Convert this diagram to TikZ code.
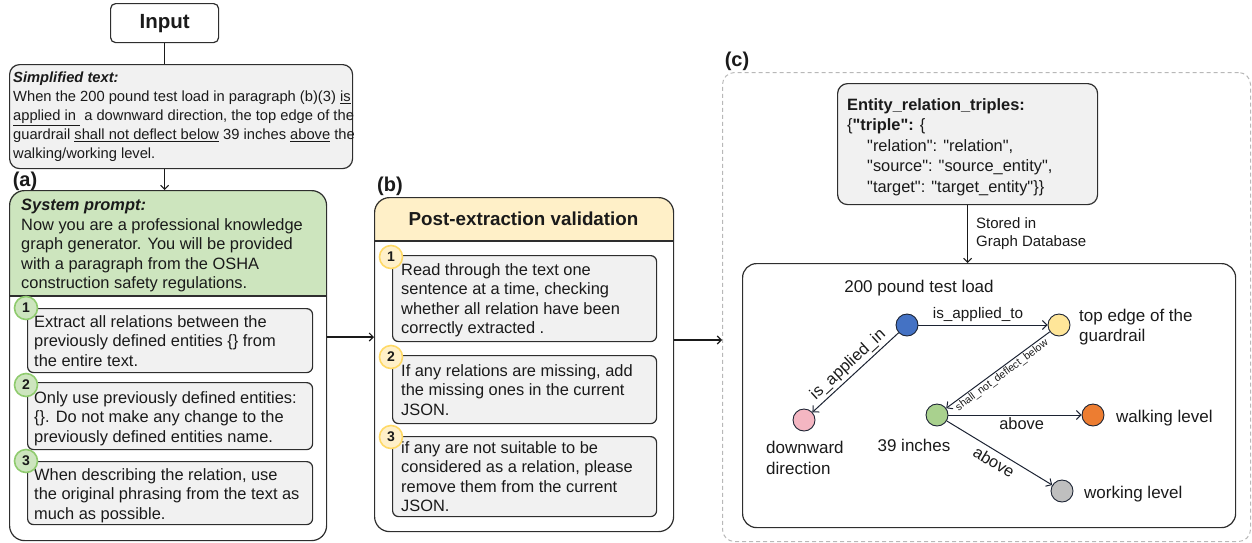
\documentclass[tikz,border=0pt]{standalone}
\usepackage{fontspec}
\setmainfont{Liberation Sans}[Ligatures=TeXOff]
\usetikzlibrary{arrows.meta,calc}
\definecolor{txtc}{HTML}{1A1A1A}
\definecolor{boxline}{HTML}{2E2E2E}
\definecolor{boxfill}{HTML}{F1F1F1}
\definecolor{greenfill}{HTML}{CDE5BE}
\definecolor{greenring}{HTML}{8FCB6E}
\definecolor{yelfill}{HTML}{FFF0C8}
\definecolor{yelring}{HTML}{FFD966}
\definecolor{dashc}{HTML}{B8B8B8}
\definecolor{edgec}{HTML}{1C2333}
\definecolor{nblue}{HTML}{4472C4}
\definecolor{nyellow}{HTML}{FFE699}
\definecolor{npink}{HTML}{F4B6C2}
\definecolor{ngreen}{HTML}{A9D18E}
\definecolor{norange}{HTML}{ED7D31}
\definecolor{ngray}{HTML}{BFBFBF}
\tikzset{
  shell/.style={draw=boxline, line width=1.2pt, rectangle, inner sep=0pt, anchor=north west},
  stepbox/.style={shell, fill=boxfill, rounded corners=6pt},
  bigbox/.style={shell, rounded corners=15pt},
  txt/.style={inner sep=0pt, anchor=north west, align=left, text=txtc, font=\fontsize{16.4}{19.5}\selectfont},
  simptxt/.style={txt, font=\fontsize{14.7}{18.9}\selectfont},
  numg/.style={circle, draw=greenring, fill=greenfill, line width=1.6pt, minimum size=23pt, inner sep=0pt, font=\fontsize{14}{14}\selectfont\bfseries, text=txtc},
  numy/.style={circle, draw=yelring, fill=yelfill, line width=1.6pt, minimum size=23pt, inner sep=0pt, font=\fontsize{14}{14}\selectfont\bfseries, text=txtc},
  panel/.style={font=\fontsize{20}{20}\selectfont\bfseries, text=txtc, inner sep=0pt},
  arr/.style={draw=txtc, line width=1.1pt, -{Straight Barb[length=4pt,width=8pt]}},
  gnode/.style={circle, draw=edgec, line width=0.9pt, minimum size=22pt, inner sep=0pt},
  garr/.style={draw=edgec, line width=1pt, -{Straight Barb[length=4.5pt,width=9pt]}},
  glab/.style={text=txtc, font=\fontsize{17}{20.5}\selectfont, inner sep=0pt, align=left},
  elab/.style={text=txtc, font=\fontsize{15.3}{15.3}\selectfont, inner sep=2.5pt},
}
\begin{document}
\begin{tikzpicture}[x=1pt,y=-1pt]
\useasboundingbox (0,0) rectangle (1252,542);

% ---------- Input and simplified text ----------
\node[shell, rounded corners=5pt, minimum width=108pt, minimum height=39pt] (inp) at (110,3) {};
\node[font=\fontsize{20.5}{20.5}\selectfont\bfseries, text=txtc] at (inp.center) {Input};

\node[shell, fill=boxfill, rounded corners=10pt, minimum width=343pt, minimum height=104pt] (simp) at (9,64) {};
\node[simptxt] (simpt) at (13,72) {\textbf{\textit{Simplified text:}}\\
When the 200 pound test load in paragraph (b)(3) \underline{is}\\
\underline{applied in\ }\ a downward direction, the top edge of the\\
guardrail \underline{shall not deflect below} 39 inches \underline{above} the\\
walking/working level.};

\draw[draw=txtc, line width=1.1pt] (inp.south) -- (inp.south |- simp.north);

% ---------- (a) System prompt ----------
\node[panel] (pa) at (25,181) {(a)};
\begin{scope}
  \clip[rounded corners=15pt] (9,190) rectangle (326,540);
  \fill[greenfill] (9,190) rectangle (326,296);
\end{scope}
\node[bigbox, minimum width=317pt, minimum height=350pt] (sys) at (9,190) {};
\draw[draw=boxline, line width=1.2pt] (sys.west |- 0,296) -- (sys.east |- 0,296);
\node[txt] (syst) at (21,199) {\textbf{\textit{System prompt:}}\\
Now you are a professional knowledge\\
graph generator. You will be provided\\
with a paragraph from the OSHA\\
construction safety regulations.};

\draw[arr] (simp.south -| inp.south) -- (sys.north -| inp.south);

\node[stepbox, minimum width=285pt, minimum height=64pt] (a1) at (27,308) {};
\node[stepbox, minimum width=285pt, minimum height=67pt] (a2) at (27,382) {};
\node[stepbox, minimum width=285pt, minimum height=63pt] (a3) at (27,461) {};
\node[txt] at (34,315) {Extract all relations between the\\
previously defined entities \{\} from\\
the entire text.};
\node[txt] at (34,391) {Only use previously defined entities:\\
\{\}. Do not make any change to the\\
previously defined entities name.};
\node[txt] at (34,468) {When describing the relation, use\\
the original phrasing from the text as\\
much as possible.};
\node[numg] (na1) at (26,308) {1};
\node[numg] (na2) at (26,385) {2};
\node[numg] (na3) at (26,461) {3};

% ---------- (b) Post-extraction validation ----------
\node[panel] (pb) at (390,186) {(b)};
\begin{scope}
  \clip[rounded corners=15pt] (374,197) rectangle (673,531);
  \fill[yelfill] (374,197) rectangle (673,241);
\end{scope}
\node[bigbox, minimum width=299pt, minimum height=334pt] (val) at (374,197) {};
\draw[draw=boxline, line width=1.2pt] (val.west |- 0,241) -- (val.east |- 0,241);
\node[font=\fontsize{18.8}{18.8}\selectfont\bfseries, text=txtc] (valt) at (523.5,219) {Post-extraction validation};

\node[stepbox, minimum width=264pt, minimum height=86pt] (b1) at (392,255) {};
\node[stepbox, minimum width=264pt, minimum height=68pt] (b2) at (392,355) {};
\node[stepbox, minimum width=264pt, minimum height=80pt] (b3) at (392,436) {};
\node[txt] at (401,263) {Read through the text one\\
sentence at a time, checking\\
whether all relation have been\\
correctly extracted .};
\node[txt] at (401,364) {If any relations are missing, add\\
the missing ones in the current\\
JSON.};
\node[txt] at (401,441) {if any are not suitable to be\\
considered as a relation, please\\
remove them from the current\\
JSON.};
\node[numy] (nb1) at (391,257) {1};
\node[numy] (nb2) at (391,357) {2};
\node[numy] (nb3) at (391,437) {3};

\coordinate (ab) at (0,337);
\draw[arr] (sys.east |- ab) -- (val.west |- ab);

% ---------- (c) Graph database ----------
\node[panel] (pc) at (737,61) {(c)};
\node[shell, draw=dashc, line width=1pt, dash pattern=on 4pt off 3pt, rounded corners=12pt, minimum width=528pt, minimum height=469pt] (cbox) at (722,72) {};
\coordinate (bc) at (0,340);
\draw[arr] (val.east |- bc) -- (cbox.west |- bc);

\node[stepbox, rounded corners=10pt, minimum width=260pt, minimum height=121pt] (ent) at (837,83) {};
\node[txt, font=\fontsize{16.4}{20.5}\selectfont] (entt) at (847,98) {\textbf{Entity\_relation\_triples:}\\
\{\textbf{"triple":} \{\\
\hspace*{20pt}"relation": "relation",\\
\hspace*{20pt}"source": "source\_entity",\\
\hspace*{20pt}"target": "target\_entity"\}\}};

\node[shell, rounded corners=14pt, minimum width=493pt, minimum height=264pt] (gbox) at (742,263) {};
\draw[arr] (ent.south) -- (gbox.north -| ent.south);
\node[txt, font=\fontsize{15}{18.5}\selectfont] (stored) at (976,217) {Stored in\\Graph Database};

% graph nodes
\node[gnode, fill=nblue] (g200) at (907,325) {};
\node[gnode, fill=nyellow] (gtop) at (1059,325) {};
\node[gnode, fill=npink] (gdown) at (804,420) {};
\node[gnode, fill=ngreen] (g39) at (937,415) {};
\node[gnode, fill=norange] (gwalk) at (1093,415) {};
\node[gnode, fill=ngray] (gwork) at (1062,491) {};

\node[glab, anchor=center] at (919,288) {200 pound test load};
\node[glab, anchor=west] at (1079,327) {top edge of the\\guardrail};
\node[glab, anchor=north west] at (766,441) {downward\\direction};
\node[glab, anchor=center] at (914,445) {39 inches};
\node[glab, anchor=west] at (1116,418) {walking level};
\node[glab, anchor=west] at (1084,494) {working level};

\draw[garr] (g200) -- (gtop) node[elab, midway, above, xshift=-5pt] {is\_applied\_to};
\draw[garr] (g200) -- (gdown) node[elab, midway, above, sloped, font=\fontsize{16.4}{16.4}\selectfont] {is\_applied\_in};
\draw[garr] (gtop) -- (g39) node[elab, midway, below, sloped, inner sep=1.5pt, font=\fontsize{10.5}{10.5}\selectfont] {shall\_not\_deflect\_below};
\draw[garr] (g39) -- (gwalk) node[elab, pos=0.55, below, font=\fontsize{16.4}{16.4}\selectfont] {above};
\draw[garr] (g39) -- (gwork) node[elab, midway, below, sloped, inner sep=4pt, font=\fontsize{16.4}{16.4}\selectfont] {above};
\end{tikzpicture}
\end{document}
